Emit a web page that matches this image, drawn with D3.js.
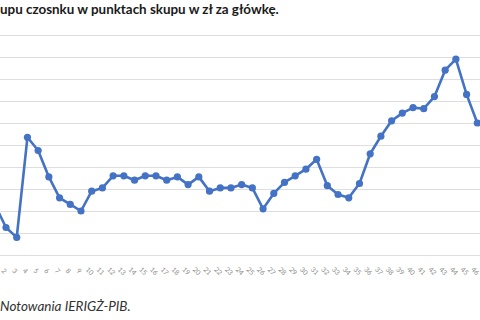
<!DOCTYPE html>
<html><head><meta charset="utf-8">
<script src="https://cdn.jsdelivr.net/npm/d3@7"></script>
<style>html,body{margin:0;padding:0;background:#fff;overflow:hidden}</style>
</head><body>
<svg id="c" width="480" height="320"></svg>
<script>
const categories = d3.range(1, 47).map(String);
const prices = [0.45,0.25,0.16,1.07,0.95,0.71,0.52,0.46,0.40,0.58,
  0.61,0.72,0.72,0.68,0.72,0.72,0.68,0.71,0.64,0.71,
  0.58,0.61,0.61,0.64,0.61,0.42,0.56,0.66,0.72,0.78,
  0.87,0.63,0.55,0.52,0.65,0.92,1.08,1.22,1.29,1.34,
  1.33,1.44,1.68,1.78,1.46,1.20];
const yTicks = [0,0.2,0.4,0.6,0.8,1.0,1.2,1.4,1.6,1.8,2.0];
const visibleLabels = categories.slice(1);
const titleText = "upu czosnku w punktach skupu w zł za główkę.";
const sourceText = "Notowania IERIGŻ-PIB.";

const svg = d3.select("#c");
const x = d3.scalePoint().domain(categories).range([-4.7, 477.3]);
const y = d3.scaleLinear().domain([0, 2.0]).range([255, 35]);

// gridlines
svg.append("g").selectAll("line").data(yTicks).join("line")
  .attr("x1", -12).attr("x2", 484)
  .attr("y1", d => Math.round(y(d)) + 0.5).attr("y2", d => Math.round(y(d)) + 0.5)
  .attr("stroke", "#dedede").attr("stroke-width", 1.2);

// x axis labels
const xAxis = d3.axisBottom(x).tickValues(visibleLabels).tickSize(0).tickPadding(0);
const gx = svg.append("g").attr("transform", "translate(0,255)").call(xAxis);
gx.select(".domain").remove();
gx.selectAll("text")
  .attr("transform", "translate(-2.5,16) rotate(45)")
  .attr("text-anchor", "middle").attr("dy", "0.35em").attr("y", 0)
  .attr("font-family", "Lato, 'Open Sans', sans-serif")
  .attr("font-size", 6.8).attr("fill", "#8a8a8a");

// line
const line = d3.line().x((d, i) => x(categories[i])).y(d => y(d));
svg.append("path").datum(prices).attr("d", line)
  .attr("fill", "none").attr("stroke", "#4472C4").attr("stroke-width", 2.6)
  .attr("stroke-linejoin", "round");
svg.append("g").selectAll("circle").data(prices).join("circle")
  .attr("cx", (d, i) => x(categories[i])).attr("cy", d => y(d))
  .attr("r", 3.6).attr("fill", "#4472C4");

// title
svg.append("text").attr("x", 0).attr("y", 14)
  .attr("font-family", "Lato, 'Open Sans', sans-serif").attr("font-weight", "bold")
  .attr("font-size", 13.4).attr("fill", "#1a1a1a").text(titleText);

// source
svg.append("text").attr("x", 0).attr("y", 311)
  .attr("font-family", "Lato, 'Open Sans', sans-serif").attr("font-style", "italic")
  .attr("font-size", 13.5).attr("fill", "#333").text(sourceText);
</script>
</body></html>
